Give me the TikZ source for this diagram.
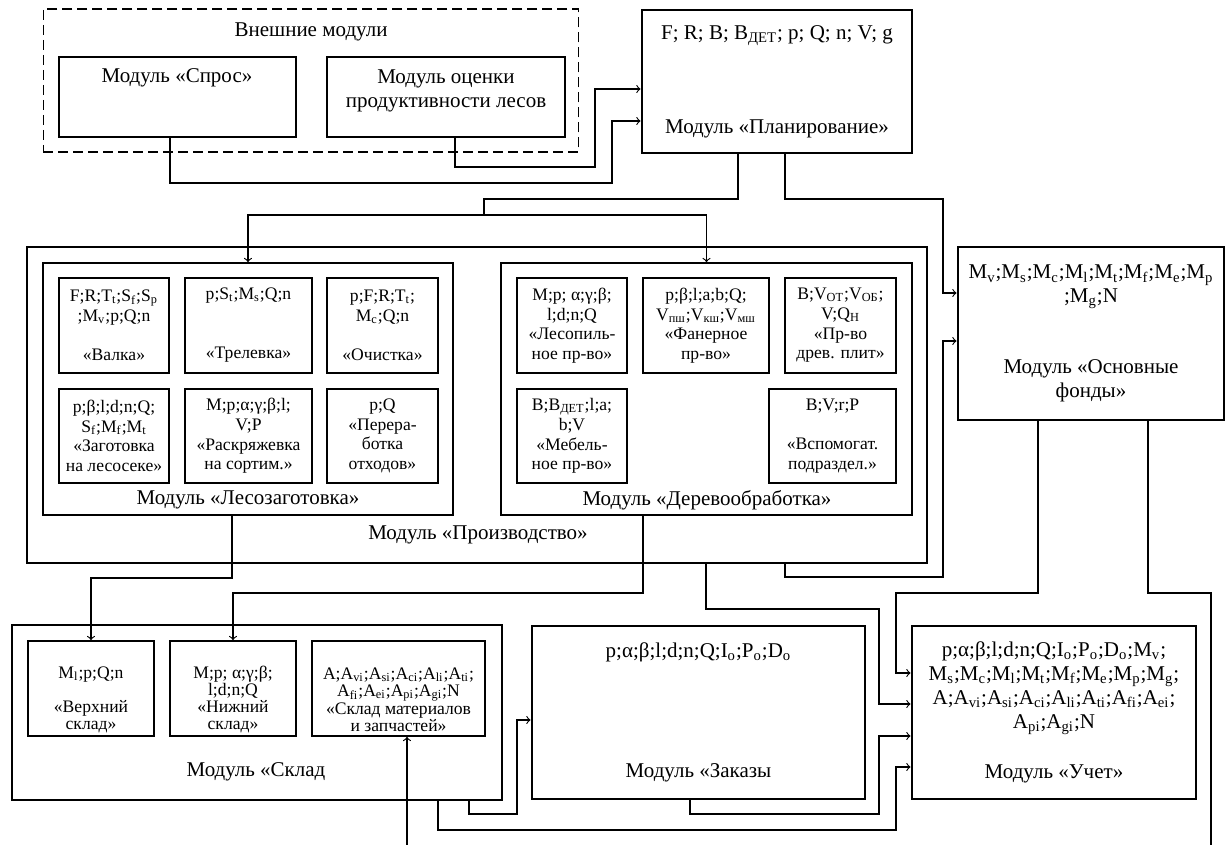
\documentclass[tikz,border=0pt]{standalone}
\usepackage{fontspec}
\setmainfont{Liberation Serif}

\tikzset{
	big/.style={draw, line width=0.5mm, inner sep=0pt, align=center, font=\fontsize{10.5}{12}\selectfont},
	grp/.style={draw, line width=0.3mm, inner sep=0pt},
	sub/.style={draw, line width=0.3mm, inner sep=0pt, align=center, font=\fontsize{8.8}{9.8}\selectfont},
	subs/.style={sub, font=\fontsize{8.8}{8.6}\selectfont},
	lbl/.style={inner sep=0pt, align=center, font=\fontsize{10.5}{12}\selectfont},
	link/.style={line width=0.2mm},
	>=to
}

\begin{document}
\begin{tikzpicture}[x=0.5pt, y=-0.5pt]
		%%%%% START %%%%%
		\useasboundingbox (0,0) rectangle (1227,845);
		
		% external modules
		\node[draw, line width=0.2mm, dash pattern=on 5pt off 2.5pt, minimum width=267.75pt, minimum height=71.5pt] (ext) at (311,80.5) {};
		\node[lbl] (extlbl) at (311,32) {Внешние модули};
		\node[big, minimum width=118.5pt, minimum height=40pt] (spros) at (177.5,97) {};
		\node[lbl] (sproslbl) at (177,78) {Модуль «Спрос»};
		\node[big, minimum width=119pt, minimum height=40pt] (ocenka) at (446,97) {};
		\node[lbl] (ocenkalbl) at (446,91) {Модуль оценки\\продуктивности лесов};
		
		\node[big, minimum width=135pt, minimum height=71.5pt] (plan) at (777,81.5) {F; R; B; B\textsubscript{ДЕТ}; p; Q; n; V; g\\[35pt]Модуль «Планирование»};
		
		\node[big, minimum width=133pt, minimum height=86.5pt, font=\fontsize{10.5}{11.75}\selectfont] (of) at (1091,333.5) {M\textsubscript{v};M\textsubscript{s};M\textsubscript{c};M\textsubscript{l};M\textsubscript{t};M\textsubscript{f};M\textsubscript{e};M\textsubscript{p}\\;M\textsubscript{g};N\\[24pt]Модуль «Основные\\фонды»};
		
		% production
		\node[big, minimum width=450pt, minimum height=158pt] (prod) at (477,405) {};
		\node[lbl] (prodlbl) at (478,535) {Модуль «Производство»};
		\node[grp, minimum width=205pt, minimum height=126pt] (lesozag) at (248,389) {};
		\node[lbl] (lesozaglbl) at (248,500) {Модуль «Лесозаготовка»};
		\node[grp, minimum width=205.5pt, minimum height=126pt] (derevo) at (706.5,389) {};
		\node[lbl] (derevolbl) at (707,500) {Модуль «Деревообработка»};
		
		\node[sub, minimum width=55pt, minimum height=47.5pt] (valka) at (114,325.5) {F;R;T\textsubscript{t};S\textsubscript{f};S\textsubscript{p}\\;M\textsubscript{v};p;Q;n\\[9.8pt]«Валка»};
		\node[sub, minimum width=63.5pt, minimum height=47.5pt] (trel) at (248.5,325.5) {p;S\textsubscript{t};M\textsubscript{s};Q;n\\[19.7pt]«Трелевка»};
		\node[sub, minimum width=55.5pt, minimum height=47.5pt] (ochist) at (382.5,325.5) {p;F;R;T\textsubscript{t};\\M\textsubscript{c};Q;n\\[9.8pt]«Очистка»};
		\node[sub, minimum width=55pt, minimum height=47pt] (zagot) at (114,436) {p;β;l;d;n;Q;\\S\textsubscript{f};M\textsubscript{f};M\textsubscript{t}\\«Заготовка\\на лесосеке»};
		\node[sub, minimum width=63.5pt, minimum height=47pt] (raskr) at (248.5,436) {M;p;α;γ;β;l;\\V;P\\«Раскряжевка\\на сортим.»};
		\node[sub, minimum width=55.5pt, minimum height=47pt] (pererab) at (382.5,436) {p;Q\\«Перера-\\ботка\\отходов»};
		
		\node[sub, minimum width=55pt, minimum height=47.5pt] (lesopil) at (572,325.5) {M;p; α;γ;β;\\l;d;n;Q\\«Лесопиль-\\ное пр-во»};
		\node[sub, minimum width=63pt, minimum height=47.5pt] (fanera) at (706,325.5) {p;β;l;a;b;Q;\\V\textsubscript{пш};V\textsubscript{кш};V\textsubscript{мш}\\«Фанерное\\пр-во»};
		\node[sub, minimum width=55.5pt, minimum height=47.5pt] (plity) at (840.5,325.5) {B;V\textsubscript{ОТ};V\textsubscript{ОБ};\\V;Q\textsubscript{Н}\\«Пр-во\\древ. плит»};
		\node[sub, minimum width=55pt, minimum height=47pt] (mebel) at (572,436) {B;B\textsubscript{ДЕТ};l;a;\\b;V\\«Мебель-\\ное пр-во»};
		\node[sub, minimum width=63.5pt, minimum height=47pt] (vspom) at (832.5,436) {B;V;r;P\\[9.8pt]«Вспомогат.\\подраздел.»};
		
		% warehouse, orders, accounting
		\node[big, minimum width=245pt, minimum height=87.5pt] (sklad) at (257,712.5) {};
		\node[lbl] (skladlbl) at (256,772) {Модуль «Склад};
		\node[subs, minimum width=63pt, minimum height=47.5pt] (verkh) at (91,688.5) {\rule{0pt}{17pt}M\textsubscript{l};p;Q;n\\[8.6pt]«Верхний\\склад»};
		\node[subs, minimum width=63pt, minimum height=47.5pt] (nizh) at (233,688.5) {\rule{0pt}{17pt}M;p; α;γ;β;\\l;d;n;Q\\«Нижний\\склад»};
		\node[subs, minimum width=86.5pt, minimum height=47.5pt] (mater) at (398.5,688.5) {\rule{0pt}{17pt}A;A\textsubscript{vi};A\textsubscript{si};A\textsubscript{ci};A\textsubscript{li};A\textsubscript{ti};\\A\textsubscript{fi};A\textsubscript{ei};A\textsubscript{pi};A\textsubscript{gi};N\\«Склад материалов\\и запчастей»};
		
		\node[big, minimum width=166.5pt, minimum height=86.5pt] (zakaz) at (698.5,712.5) {p;α;β;l;d;n;Q;I\textsubscript{o};P\textsubscript{o};D\textsubscript{o}\\[48pt]Модуль «Заказы};
		\node[big, minimum width=142pt, minimum height=86.5pt] (uchet) at (1054,712.5) {p;α;β;l;d;n;Q;I\textsubscript{o};P\textsubscript{o};D\textsubscript{o};M\textsubscript{v};\\M\textsubscript{s};M\textsubscript{c};M\textsubscript{l};M\textsubscript{t};M\textsubscript{f};M\textsubscript{e};M\textsubscript{p};M\textsubscript{g};\\A;A\textsubscript{vi};A\textsubscript{si};A\textsubscript{ci};A\textsubscript{li};A\textsubscript{ti};A\textsubscript{fi};A\textsubscript{ei};\\A\textsubscript{pi};A\textsubscript{gi};N\\[13pt]Модуль «Учет»};
		
		\coordinate (fork) at (484,215);
		\coordinate (inM) at (407,845);
		\coordinate (outR) at (1211,845);
		
		% connectors
		\draw[link,->] (ocenka.south -| 455,0) |- (595,167) |- (plan.west |- 0,89);
		\draw[link,->] (spros.south -| 170,0) |- (612,183) |- (plan.west |- 0,121);
		\draw[link] (plan.south -| 738,0) |- (fork |- 0,199) -- (fork);
		\draw[link,->] (fork) -| (lesozag.north);
		\draw[link,->] (fork) -| (derevo.north);
		\draw[link,->] (plan.south -| 785,0) |- (943,199) |- (of.west |- 0,293);
		\draw[link,->] (prod.south -| 785,0) |- (943,577) |- (of.west |- 0,341);
		
		\draw[link,->] (lesozag.south -| 232,0) |- (91,578) -- (verkh.north);
		\draw[link,->] (derevo.south -| 643,0) |- (233,593) -- (nizh.north);
		\draw[link,->] (prod.south -| 706,0) |- (879,609) |- (uchet.west |- 0,704);
		\draw[link,->] (of.south -| 1038,0) |- (896,593) |- (uchet.west |- 0,673);
		\draw[link] (of.south -| 1148,0) |- (outR |- 0,593) -- (outR);
		\draw[link,->] (inM) -- (mater.south -| inM);
		
		\draw[link,->] (sklad.south -| 469,0) |- (517,814) |- (zakaz.west |- 0,720);
		\draw[link,->] (sklad.south -| 438,0) |- (896,830) |- (uchet.west |- 0,767);
		\draw[link,->] (zakaz.south -| 690,0) |- (879,814) |- (uchet.west |- 0,736);
		%%%%% END %%%%%
\end{tikzpicture}
\end{document}
